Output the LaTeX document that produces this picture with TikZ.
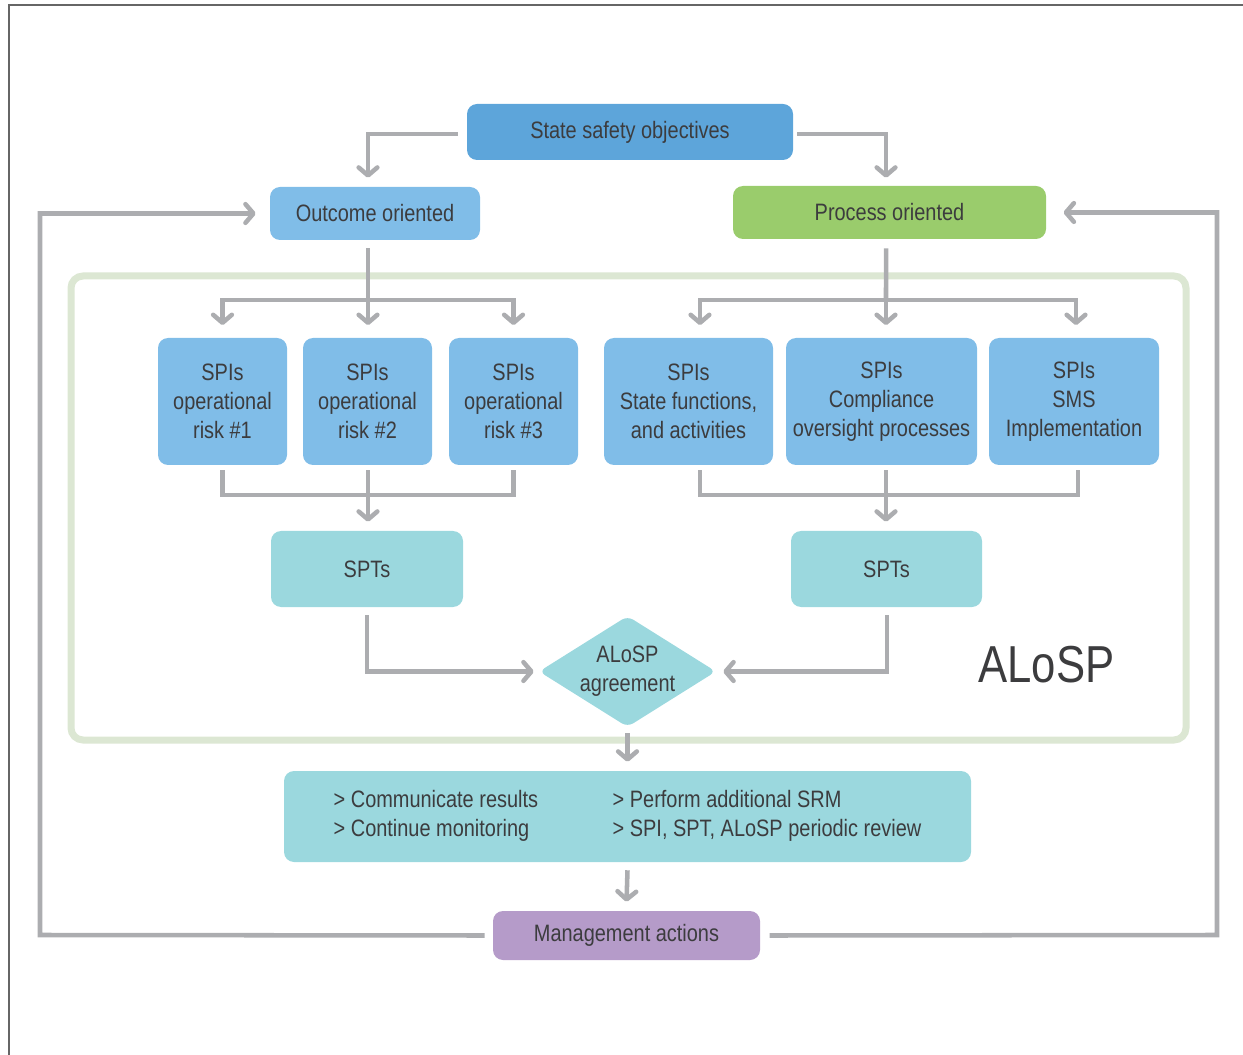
\documentclass[tikz,border=0pt]{standalone}
\usepackage{fontspec}
\setmainfont{Liberation Sans}[FakeStretch=0.84]
\usetikzlibrary{arrows.meta,shapes.geometric}
\definecolor{txt}{HTML}{3C3C3E}
\definecolor{cSSO}{HTML}{5DA5DA}
\definecolor{cBlue}{HTML}{80BDE8}
\definecolor{cGreen}{HTML}{9ACC6C}
\definecolor{cTeal}{HTML}{9BD8DE}
\definecolor{cPurple}{HTML}{B59BC9}
\definecolor{cLine}{HTML}{ACADB0}
\definecolor{cFrame}{HTML}{DCE7D3}
\definecolor{cBorder}{HTML}{666666}
\begin{document}
\begin{tikzpicture}[x=0.75pt,y=-0.75pt,
  box/.style={rounded corners=7.5pt, inner sep=0pt, align=center, text=txt,
    font=\fontsize{17.8}{21.6}\selectfont},
  sz/.style 2 args={minimum width=#1*0.75pt, minimum height=#2*0.75pt},
  ln/.style={draw=cLine, line width=3.4pt},
  arr/.style={ln, -{Straight Barb[length=6pt,width=14pt,round]}},
]
\useasboundingbox (0,0) rectangle (1243,1055);
% outer page border
\draw[cBorder, line width=1.5pt] (1243,5.5) -- (8.5,5.5) -- (8.5,1055);
% green ALoSP frame
\draw[cFrame, line width=5.25pt, rounded corners=9pt] (71,276) rectangle (1186,740);

% nodes
\node[box, sz={326}{56}, fill=cSSO] (sso) at (630,132) {State safety objectives};
\node[box, sz={210}{53}, fill=cBlue] (oo) at (375,213.5) {Outcome oriented};
\node[box, sz={313}{53}, fill=cGreen] (po) at (889.5,212.5) {Process oriented};

\node[box, sz={129}{127}, fill=cBlue] (s1) at (222.5,401.5) {SPIs\\operational\\risk \#1};
\node[box, sz={129}{127}, fill=cBlue] (s2) at (367.5,401.5) {SPIs\\operational\\risk \#2};
\node[box, sz={129}{127}, fill=cBlue] (s3) at (513.5,401.5) {SPIs\\operational\\risk \#3};
\node[box, sz={169}{127}, fill=cBlue] (s4) at (688.5,401.5) {SPIs\\State functions,\\and activities};
\node[box, sz={191}{127}, fill=cBlue] (s5) at (881.5,401.5) {SPIs\\Compliance\\oversight processes};
\node[box, sz={170}{127}, fill=cBlue] (s6) at (1074,401.5) {SPIs\\SMS\\Implementation};

\node[box, sz={192}{76}, fill=cTeal] (tL) at (367,569) {SPTs};
\node[box, sz={191}{76}, fill=cTeal] (tR) at (886.5,569) {SPTs};

\node[diamond, fill=cTeal, inner sep=0pt, sz={177}{111}, rounded corners=5pt,
  label={[text=txt, align=center, font=\fontsize{17.8}{21.6}\selectfont]center:ALoSP\\agreement}]
  (dg) at (627.5,671.5) {};

\node[text=txt, font=\fontsize{39}{46}\selectfont, inner sep=0pt] (al) at (1046.5,665) {ALoSP};

\node[box, sz={687}{91}, fill=cTeal] (act) at (627.5,816.5)
  {\begin{tabular}{@{}p{209.25pt}@{}l@{}}
   > Communicate results & > Perform additional SRM\\
   > Continue monitoring & > SPI, SPT, ALoSP periodic review
   \end{tabular}};

\node[box, sz={267}{49}, fill=cPurple] (mg) at (626.5,935.5) {Management actions};

% junction coordinates
\coordinate (jL) at (368,300);
\coordinate (jR) at (886,300);
\coordinate (mL) at (368,495);
\coordinate (mR) at (886,495);
\coordinate (fL) at (40,935);
\coordinate (fR) at (1217,935);

% top split
\draw[arr] ([xshift=-6.75pt,yshift=-1.5pt]sso.west) -| ([xshift=-5.25pt,yshift=6.75pt]oo.north);
\draw[arr] ([xshift=3pt,yshift=-1.5pt]sso.east) -| ([xshift=-2.6pt,yshift=6pt]po.north);

% branches into SPIs
\draw[ln] ([xshift=-5.25pt,yshift=-6pt]oo.south) -- (jL);
\draw[arr] (jL) -| ([yshift=9.5pt]s1.north);
\draw[arr] (jL) -- ([yshift=9.5pt]s2.north -| jL);
\draw[arr] (jL) -| ([yshift=9.5pt]s3.north);
\draw[ln] ([xshift=-2.6pt,yshift=-6.75pt]po.south) -- (jR);
\draw[arr] (jR) -| ([xshift=8.6pt,yshift=9.5pt]s4.north);
\draw[arr] (jR) -- ([yshift=9.5pt]s5.north -| jR);
\draw[arr] (jR) -| ([xshift=1.5pt,yshift=9.5pt]s6.north);

% merges into SPTs
\draw[ln] ([yshift=-3.75pt]s1.south) |- (mL) -| ([yshift=-3.75pt]s3.south);
\draw[ln] ([yshift=-3.75pt]s2.south -| mL) -- (mL);
\draw[arr] (mL) -- ([yshift=6.75pt]tL.north -| mL);
\draw[ln] ([xshift=8.6pt,yshift=-3.75pt]s4.south) |- (mR) -| ([xshift=3pt,yshift=-3.75pt]s6.south);
\draw[ln] ([yshift=-3.75pt]s5.south -| mR) -- (mR);
\draw[arr] (mR) -- ([yshift=6.75pt]tR.north -| mR);

% SPTs to agreement
\draw[arr] ([yshift=-6pt]tL.south) |- ([xshift=-3.75pt]dg.west);
\draw[arr] ([xshift=0.4pt,yshift=-6pt]tR.south) |- ([xshift=5.25pt]dg.east);

% agreement to actions to management
\draw[arr] ([yshift=-4.5pt]dg.south) -- ([yshift=6.75pt]act.north -| dg.south);
\draw[arr] ([yshift=-6pt]act.south) -- ([yshift=6.75pt]mg.north);

% feedback loops
\draw[arr] ([xshift=-6pt]mg.west) -- (fL) |- ([xshift=-10.5pt]oo.west);
\draw[arr] ([xshift=7pt]mg.east) -- (fR) |- ([xshift=13pt]po.east);
\end{tikzpicture}
\end{document}
